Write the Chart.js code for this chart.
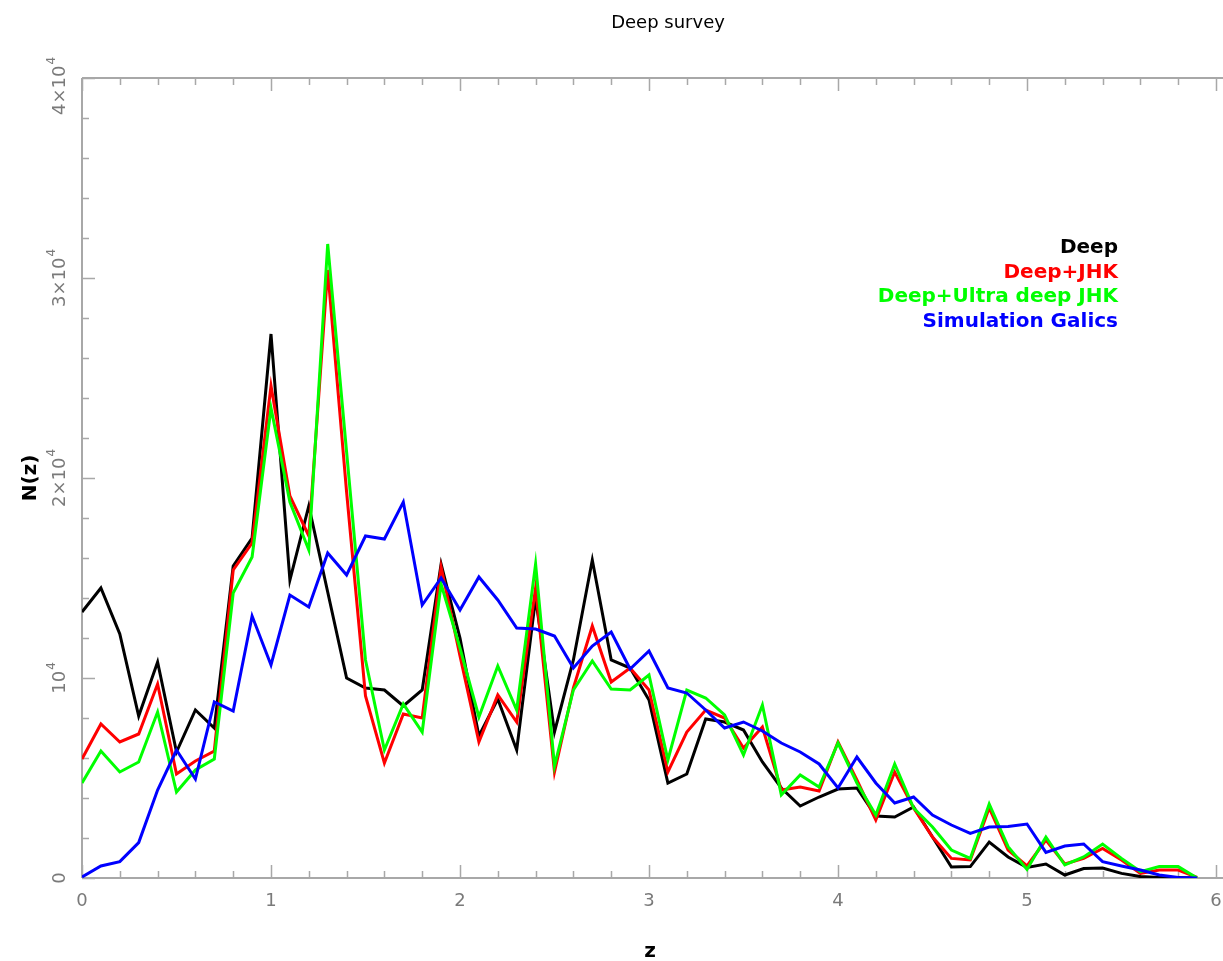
<!DOCTYPE html>
<html>
<head>
<meta charset="utf-8">
<script src="https://cdn.jsdelivr.net/npm/chart.js@4/dist/chart.umd.min.js"></script>
<style>
html,body{margin:0;padding:0;background:#fff;}
canvas{display:block;}
</style>
</head>
<body>
<canvas id="c" width="1223" height="961"></canvas>
<script>
const zValues = [0,0.1,0.2,0.3,0.4,0.5,0.6,0.7,0.8,0.9,1.0,1.1,1.2,1.3,1.4,1.5,1.6,1.7,1.8,1.9,2.0,2.1,2.2,2.3,2.4,2.5,2.6,2.7,2.8,2.9,3.0,3.1,3.2,3.3,3.4,3.5,3.6,3.7,3.8,3.9,4.0,4.1,4.2,4.3,4.4,4.5,4.6,4.7,4.8,4.9,5.0,5.1,5.2,5.3,5.4,5.5,5.6,5.7,5.8,5.9];

const deep = [13300,14500,12200,8100,10800,6300,8400,7500,15600,17000,27200,14900,18600,14300,10000,9500,9400,8600,9400,15700,12000,7100,8950,6400,14000,7300,10900,15900,10900,10500,8900,4750,5200,7950,7800,7400,5800,4500,3600,4050,4450,4500,3100,3050,3550,2050,550,570,1800,1050,530,700,150,470,500,230,70,30,30,0];

const deepJHK = [5950,7700,6800,7200,9700,5200,5850,6350,15400,16750,24600,19100,17100,30400,19300,9100,5750,8200,8000,15550,11100,6800,9150,7800,14500,5300,9500,12600,9800,10500,9400,5300,7300,8400,8000,6500,7550,4400,4550,4350,6800,4900,2900,5300,3500,2050,980,900,3500,1400,600,1900,700,980,1480,900,230,400,400,30];

const deepUltraJHK = [4750,6350,5300,5800,8300,4300,5400,5950,14250,16050,23500,18800,16400,31700,21300,10900,6400,8700,7300,14700,11500,8050,10600,8400,15700,5600,9400,10850,9450,9400,10150,5900,9400,9000,8150,6150,8650,4150,5150,4550,6750,4750,3150,5700,3500,2550,1400,980,3700,1570,430,2050,650,1050,1700,980,320,570,570,0];

const simGalics = [50,600,820,1770,4400,6400,4950,8800,8350,13100,10650,14150,13550,16250,15150,17100,16950,18800,13650,15000,13400,15050,13900,12500,12450,12100,10500,11600,12300,10450,11350,9500,9250,8400,7500,7800,7350,6750,6300,5700,4500,6050,4750,3750,4050,3150,2650,2230,2550,2570,2700,1280,1600,1700,820,600,400,150,30,0];

const seriesNames = ["Deep","Deep+JHK","Deep+Ultra deep JHK","Simulation Galics"];
const seriesColors = ["#000000","#ff0000","#00ff00","#0000ff"];
const xTickValues = [0,1,2,3,4,5,6];
const xTickLabels = ["0","1","2","3","4","5","6"];
const yTickValues = [0,10000,20000,30000,40000];
const yTickLabels = [["0",""],["10","4"],["2×10","4"],["3×10","4"],["4×10","4"]];
const chartTitle = "Deep survey";
const xAxisTitle = "z";
const yAxisTitle = "N(z)";

function pts(arr){ return zValues.map((z,i)=>({x:z,y:arr[i]})); }

const seriesData = [deep, deepJHK, deepUltraJHK, simGalics];
const datasets = seriesData.map((arr,i)=>({
  label: seriesNames[i],
  data: pts(arr),
  borderColor: seriesColors[i],
  backgroundColor: seriesColors[i],
  borderWidth: 3,
  pointRadius: 0,
  tension: 0,
  fill: false,
  order: 4 - i
}));

const AXIS_COLOR = "#a8a8a8";
const LABEL_COLOR = "#7a7a7a";

const framePlugin = {
  id: 'frame',
  beforeDatasetsDraw(chart){
    const ctx = chart.ctx, a = chart.chartArea;
    const xs = chart.scales.x, ys = chart.scales.y;
    const W = chart.width;
    ctx.save();
    ctx.strokeStyle = AXIS_COLOR;
    ctx.lineWidth = 2;
    ctx.beginPath();
    ctx.moveTo(a.left, a.top); ctx.lineTo(W, a.top);
    ctx.moveTo(a.left, a.bottom); ctx.lineTo(W, a.bottom);
    ctx.moveTo(a.left, a.top); ctx.lineTo(a.left, a.bottom);
    ctx.stroke();
    ctx.lineWidth = 1.5;
    ctx.beginPath();
    // x ticks
    for (let k = 0; k <= 30; k++) {
      const v = k * 0.2;
      const px = Math.round(xs.getPixelForValue(v)) + 0.5;
      const len = (k % 5 === 0) ? 13 : 7;
      ctx.moveTo(px, a.bottom); ctx.lineTo(px, a.bottom - len);
      ctx.moveTo(px, a.top); ctx.lineTo(px, a.top + len);
    }
    // y ticks
    for (let k = 0; k <= 20; k++) {
      const v = k * 2000;
      const py = Math.round(ys.getPixelForValue(v)) + 0.5;
      const len = (k % 5 === 0) ? 13 : 7;
      ctx.moveTo(a.left, py); ctx.lineTo(a.left + len, py);
    }
    ctx.stroke();
    ctx.restore();
  },
  afterDraw(chart){
    const ctx = chart.ctx, a = chart.chartArea;
    const xs = chart.scales.x, ys = chart.scales.y;
    ctx.save();
    // x tick labels
    ctx.fillStyle = LABEL_COLOR;
    ctx.font = '18px "DejaVu Sans"';
    ctx.textAlign = 'center';
    ctx.textBaseline = 'middle';
    xTickValues.forEach((v,i)=>{
      ctx.fillText(xTickLabels[i], xs.getPixelForValue(v), 901);
    });
    // y tick labels (rotated)
    yTickValues.forEach((v,i)=>{
      let py = ys.getPixelForValue(v);
      const main = yTickLabels[i][0], sup = yTickLabels[i][1];
      ctx.font = '18px "DejaVu Sans"';
      const wMain = ctx.measureText(main).width;
      ctx.font = '12px "DejaVu Sans"';
      const wSup = sup ? ctx.measureText(sup).width + 1 : 0;
      const total = wMain + wSup;
      if (i === yTickValues.length - 1) py = py + 8;
      ctx.save();
      ctx.translate(60, py);
      ctx.rotate(-Math.PI/2);
      ctx.textAlign = 'left';
      ctx.textBaseline = 'middle';
      ctx.font = '18px "DejaVu Sans"';
      ctx.fillText(main, -total/2, 0);
      if (sup) {
        ctx.font = '12px "DejaVu Sans"';
        ctx.fillText(sup, -total/2 + wMain + 1, -8);
      }
      ctx.restore();
    });
    // title
    ctx.fillStyle = '#000';
    ctx.font = '18px "DejaVu Sans"';
    ctx.textAlign = 'center';
    ctx.textBaseline = 'alphabetic';
    ctx.fillText(chartTitle, 668, 28);
    // axis titles
    ctx.font = 'bold 20px "DejaVu Sans"';
    ctx.fillText(xAxisTitle, 650, 957);
    ctx.save();
    ctx.translate(36, 478);
    ctx.rotate(-Math.PI/2);
    ctx.textAlign = 'center';
    ctx.fillText(yAxisTitle, 0, 0);
    ctx.restore();
    // legend
    ctx.font = 'bold 20px "DejaVu Sans"';
    ctx.textAlign = 'right';
    const baselines = [253, 278, 302, 327];
    seriesNames.forEach((n,i)=>{
      ctx.fillStyle = seriesColors[i];
      ctx.fillText(n, 1118, baselines[i]);
    });
    ctx.restore();
  }
};

new Chart(document.getElementById('c'), {
  type: 'line',
  data: { datasets },
  options: {
    responsive: false,
    animation: false,
    layout: { padding: { left: 82, right: 7, top: 78, bottom: 83 } },
    scales: {
      x: { type: 'linear', min: 0, max: 6, display: false },
      y: { type: 'linear', min: 0, max: 40000, display: false }
    },
    plugins: { legend: { display: false }, title: { display: false }, tooltip: { enabled: false } },
    elements: { line: { borderJoinStyle: 'miter', borderCapStyle: 'butt' } }
  },
  plugins: [framePlugin]
});
</script>
</body>
</html>
